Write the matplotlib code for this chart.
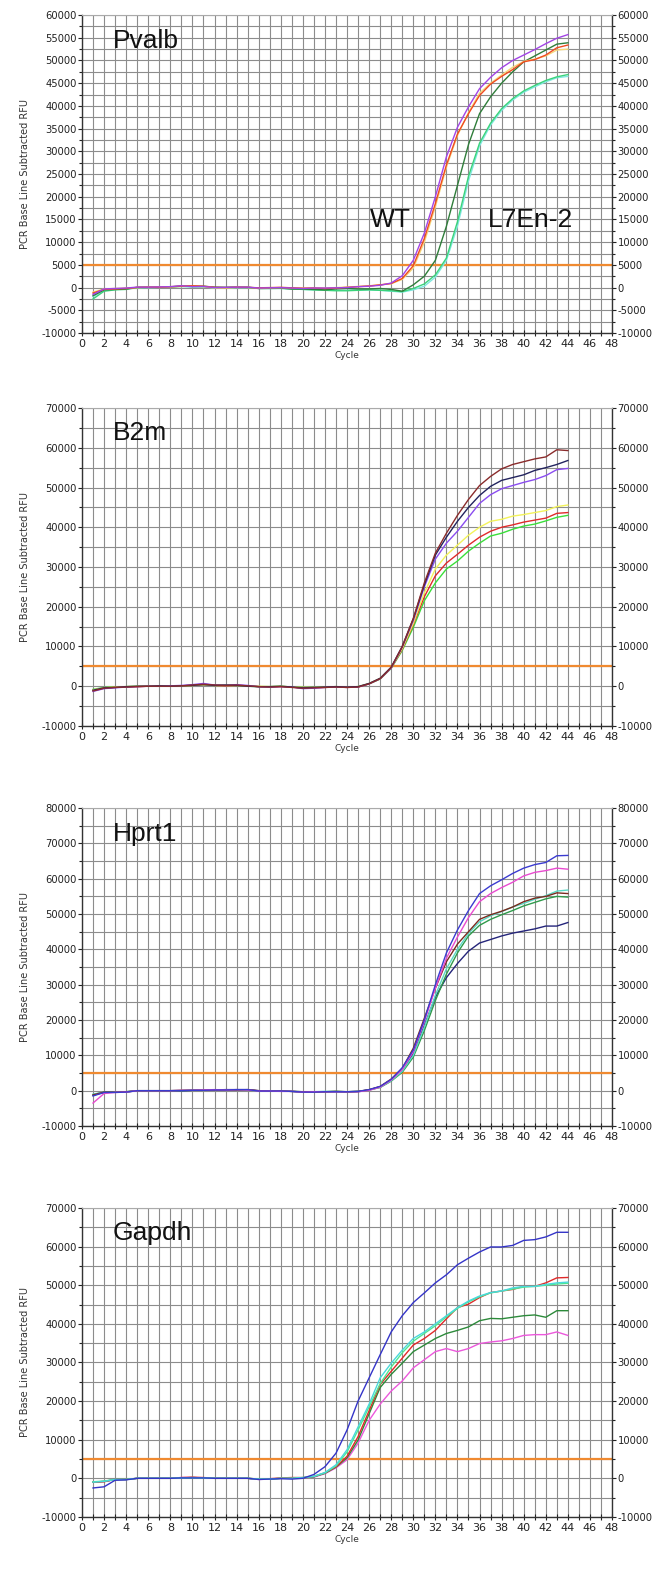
import numpy as np
import matplotlib
matplotlib.use("Agg")
import matplotlib.pyplot as plt
from matplotlib.ticker import MultipleLocator

plt.rcParams["axes.unicode_minus"] = False

# cycle numbers 1..44
cycles = np.arange(1, 45)
threshold = 5000

# Pvalb
pv_purple = [-1500, -300, -200, -100, 100, 100, 150, 200, 400, 200,
             250, 0, 50, 100, 100, -100, -50, 0, -100, -200,
             -100, -100, -50, 0, 200, 300, 500, 1000, 2600, 6000,
             12000, 20000, 28800, 35300, 39800, 43800, 46300, 48400, 50000, 51200,
             52400, 53700, 54900, 55700]
pv_red = [-1200, -400, -300, -200, 50, 100, 100, 200, 300, 400,
          300, 50, 0, 100, 50, -50, 0, 50, -50, -150,
          -100, -200, -100, 50, 200, 350, 600, 900, 2000, 4800,
          10800, 18500, 27000, 33800, 38300, 42300, 44800, 46500, 48000, 49700,
          50200, 51200, 52800, 53400]
pv_yellow = [-1000, -300, -200, -100, 0, 100, 150, 150, 250, 300,
             200, -50, -100, 50, 50, -100, -50, 0, -50, -100,
             -50, -100, 0, 100, 250, 400, 600, 850, 1800, 4300,
             10000, 17800, 26500, 33500, 38500, 42800, 45000, 46800, 48500, 49800,
             50300, 51000, 52300, 52500]
pv_dkgreen = [-1800, -500, -400, -300, 50, 100, 100, 150, 350, 300,
              300, 100, 50, 100, 100, -200, -150, -100, -300, -300,
              -400, -500, -300, -200, -300, -300, -200, -400, -800, 600,
              2500, 6000, 13500, 22500, 31500, 38300, 42000, 45000, 47500, 49700,
              51000, 52300, 53600, 53900]
pv_green = [-2500, -800, -500, -400, 0, 50, 100, 100, 300, 200,
            200, 0, 0, 50, 50, -200, -200, -150, -300, -400,
            -500, -600, -700, -700, -600, -500, -600, -700, -900, -200,
            800, 2800, 6500, 14500, 24500, 31800, 36200, 39400, 41600, 43300,
            44500, 45600, 46400, 46900]
pv_cyan = [-2000, -600, -400, -300, 0, 0, 50, 100, 200, 150,
           100, -50, -50, 0, 0, -150, -200, -200, -300, -400,
           -500, -500, -600, -600, -500, -500, -600, -800, -1000, -500,
           300, 2300, 6000, 13500, 23500, 31200, 35800, 39000, 41300, 43000,
           44200, 45300, 46200, 46500]

# B2m
b2_brown = [-1200, -500, -300, -200, -100, 0, 0, 0, 100, 300,
            500, 300, 200, 300, 100, -100, -200, -100, -300, -500,
            -400, -300, -200, -300, -200, 600, 1900, 4700, 10000, 17000,
            26000, 33500, 38500, 43000, 47000, 50500, 52800, 54700, 55800, 56500,
            57200, 57700, 59500, 59300]
b2_navy = [-1000, -400, -300, -100, 0, 0, 100, 0, 100, 200,
           400, 200, 300, 200, 0, -100, -100, 0, -200, -400,
           -300, -200, -100, -200, -100, 700, 2000, 4800, 10000, 17000,
           25500, 33000, 37500, 41500, 45000, 48000, 50300, 51800, 52500, 53200,
           54300, 55000, 55800, 56800]
b2_purple = [-1300, -600, -400, -200, -100, 0, 0, 100, 200, 400,
             700, 300, 200, 400, 200, -100, -200, -100, -200, -600,
             -500, -300, -200, -300, -200, 600, 1900, 4600, 9800, 16500,
             25000, 32000, 36000, 39000, 42500, 46000, 48200, 49700, 50500, 51300,
             52000, 53000, 54500, 54800]
b2_yellow = [-900, -400, -200, -100, 0, 100, 100, 0, 100, 200,
             300, 200, 200, 200, 100, 0, -100, 0, -200, -300,
             -300, -200, -100, -200, -100, 700, 2000, 4700, 9500, 15800,
             23500, 29500, 33000, 35500, 38000, 40000, 41500, 42000, 42800, 43200,
             43700, 44200, 45200, 45600]
b2_red = [-1000, -500, -300, -200, -100, 0, 0, 0, 100, 200,
          400, 200, 100, 200, 100, -100, -200, -100, -200, -500,
          -400, -300, -200, -300, -200, 600, 1900, 4600, 9300, 15500,
          22500, 27800, 31000, 33200, 35500, 37500, 39000, 40000, 40600, 41300,
          41800, 42300, 43500, 43700]
b2_green = [-800, -300, -200, -100, 0, 0, 100, 0, 100, 200,
            300, 200, 200, 200, 0, -100, -100, 0, -200, -300,
            -300, -200, -100, -200, -100, 600, 1800, 4500, 9000, 14800,
            21500, 26000, 29500, 31500, 34000, 36000, 37800, 38500, 39500, 40300,
            40800, 41600, 42500, 43000]

# Hprt1
hp_blue = [-1500, -500, -500, -400, 0, 0, 0, 0, 0, 100,
           100, 200, 200, 300, 300, -100, -100, -100, -200, -400,
           -400, -300, -300, -300, -200, 300, 1200, 3200, 6500, 11500,
           20000, 30000, 39000, 45500, 51000, 55800, 58000, 59700, 61500, 63000,
           64000, 64600, 66500, 66600]
hp_pink = [-3500, -800, -500, -400, 0, 0, 0, 0, 100, 100,
           200, 300, 200, 300, 200, -100, -100, -200, -200, -400,
           -300, -300, -300, -300, -300, 100, 1000, 3000, 6000, 11000,
           19500, 29000, 37500, 43500, 49000, 53500, 55800, 57500, 59000, 60800,
           61800, 62300, 63000, 62700]
hp_brown = [-1200, -400, -400, -300, 0, 0, 0, 0, 100, 100,
            100, 200, 200, 200, 300, 0, -100, -100, -200, -300,
            -300, -300, -200, -300, -200, 300, 1200, 3300, 6300, 12000,
            20500, 29000, 36500, 41500, 45000, 48500, 49800, 50800, 52000, 53500,
            54500, 55000, 56000, 55800]
hp_teal = [-1000, -400, -300, -300, 0, 0, 0, 0, 100, 100,
           100, 200, 200, 200, 200, -100, -100, -100, -200, -300,
           -300, -200, -200, -300, -200, 200, 1000, 2800, 5500, 10000,
           18000, 27000, 34500, 40000, 44500, 47800, 49500, 50700, 52000, 53000,
           54200, 55200, 56500, 56800]
hp_green = [-1100, -400, -400, -300, 0, 0, 0, 0, 0, 100,
            100, 200, 200, 200, 200, -100, -100, -100, -200, -300,
            -300, -300, -200, -300, -200, 200, 900, 2700, 5200, 9500,
            17000, 25500, 33000, 39000, 43800, 46800, 48500, 49800, 51000, 52300,
            53300, 54300, 55000, 54800]
hp_navy = [-1300, -500, -400, -400, 0, 0, 0, 0, 0, 100,
           200, 200, 300, 300, 300, 0, -100, -100, -200, -400,
           -400, -300, -300, -400, -300, 200, 1100, 3000, 5500, 10500,
           18500, 26500, 32000, 36000, 39500, 41800, 42800, 43800, 44600, 45200,
           45800, 46600, 46600, 47600]

# Gapdh
gp_blue = [-2500, -2200, -500, -400, 0, 0, 0, 0, 100, 100,
           100, 0, 0, 0, 0, -300, -200, -100, -200, 0,
           1000, 3000, 6500, 12500, 20000, 26000, 32000, 37900, 42100, 45500,
           48000, 50600, 52700, 55300, 57000, 58600, 59900, 59900, 60300, 61600,
           61800, 62500, 63700, 63700]
gp_cyan = [-1000, -800, -300, -300, 0, 0, 0, 0, 100, 200,
           100, 0, 0, 0, 0, -200, -200, 0, 0, 200,
           500, 1500, 3500, 7400, 13300, 19200, 26000, 29800, 33200, 36200,
           37900, 40000, 42100, 44200, 45900, 47200, 48100, 48500, 49300, 49700,
           49700, 50200, 50600, 50800]
gp_ltgreen = [-900, -700, -300, -300, 0, 0, 0, 0, 100, 100,
              100, 0, 0, 0, 0, -200, -200, 0, 0, 200,
              500, 1400, 3200, 6800, 12500, 18500, 24500, 28800, 32500, 35500,
              37500, 39500, 41800, 44000, 45700, 47000, 48000, 48500, 49000, 49500,
              49700, 50000, 50300, 50500]
gp_red = [-1000, -900, -300, -300, 0, 0, 0, 0, 200, 300,
          200, 0, 0, 0, 0, -200, -100, 100, 200, 200,
          500, 1400, 3000, 5700, 10800, 17500, 24300, 27700, 31100, 34500,
          36200, 38300, 41300, 44200, 45100, 46800, 48100, 48500, 48900, 49700,
          49700, 50600, 51900, 52000]
gp_dkgreen = [-1000, -800, -300, -300, 0, 0, 0, 0, 100, 200,
              100, 0, 0, 0, 0, -200, -200, 0, 0, 100,
              400, 1300, 2900, 5300, 9900, 16700, 23500, 26900, 29800, 32800,
              34500, 36200, 37500, 38300, 39200, 40800, 41400, 41300, 41700, 42100,
              42300, 41700, 43400, 43400]
gp_magenta = [-1000, -800, -300, -300, 0, 0, 0, 0, 200, 200,
              100, 0, 0, 0, 0, -300, -200, 0, 100, 100,
              300, 1200, 2700, 4800, 9100, 15000, 19200, 22600, 25200, 28600,
              30700, 32800, 33600, 32800, 33600, 34900, 35300, 35600, 36200, 37000,
              37200, 37200, 37900, 37000]

genes = ["Pvalb", "B2m", "Hprt1", "Gapdh"]
panel_series = [
    [(pv_cyan, "#7fe8e0"), (pv_green, "#3ad37a"), (pv_dkgreen, "#2f7d3a"),
     (pv_yellow, "#f5d77a"), (pv_red, "#f04a20"), (pv_purple, "#a244e6")],
    [(b2_green, "#3adf3a"), (b2_red, "#e02a2a"), (b2_yellow, "#f3f35a"),
     (b2_purple, "#8a4cf0"), (b2_navy, "#22235e"), (b2_brown, "#8a2b2b")],
    [(hp_navy, "#24247a"), (hp_green, "#2f9a4a"), (hp_teal, "#5ad8c4"),
     (hp_brown, "#7a2a1e"), (hp_pink, "#e94bd0"), (hp_blue, "#3b3bd0")],
    [(gp_magenta, "#ec58dc"), (gp_dkgreen, "#2c8a3a"), (gp_red, "#e02a2a"),
     (gp_ltgreen, "#4ee890"), (gp_cyan, "#4ad8dc"), (gp_blue, "#3434c8")],
]
ylims = [(-10000, 60000), (-10000, 70000), (-10000, 80000), (-10000, 70000)]
ymajor = [5000, 10000, 10000, 10000]
yminor = [2500, 5000, 5000, 5000]

# axes boxes in figure fractions [left, bottom, width, height]
boxes = [
    [0.125, 0.7879, 0.808, 0.2025],
    [0.125, 0.5376, 0.808, 0.2025],
    [0.125, 0.2828, 0.808, 0.2025],
    [0.125, 0.0338, 0.808, 0.1968],
]

fig = plt.figure(figsize=(6.56, 15.7), dpi=100)

for i in range(4):
    ax = fig.add_axes(boxes[i])
    ax.set_xlim(0, 48)
    ax.set_ylim(*ylims[i])

    ax.xaxis.set_major_locator(MultipleLocator(2))
    ax.xaxis.set_minor_locator(MultipleLocator(1))
    ax.yaxis.set_major_locator(MultipleLocator(ymajor[i]))
    ax.yaxis.set_minor_locator(MultipleLocator(yminor[i]))
    ax.grid(which="both", color="#8c8c8c", linewidth=0.8)
    ax.set_axisbelow(True)

    ax.tick_params(axis="x", which="both", direction="inout", length=5,
                   width=0.8, labelsize=8, pad=2, colors="#222222")
    ax.tick_params(axis="y", which="both", direction="out", left=True, right=True,
                   labelleft=True, labelright=True, labelsize=7.2, pad=1,
                   colors="#222222")
    ax.tick_params(axis="y", which="major", length=3, width=0.8)
    ax.tick_params(axis="y", which="minor", length=2.5, width=0.8)

    for s in ["left", "bottom", "right"]:
        ax.spines[s].set_color("#333333")
        ax.spines[s].set_linewidth(1.0)
    ax.spines["top"].set_color("#aaaaaa")

    ax.axhline(threshold, color="#f08a30", linewidth=1.6, zorder=2)

    for vals, col in panel_series[i]:
        ax.plot(cycles, vals, color=col, linewidth=1.0, zorder=3)

    ax.set_ylabel("PCR Base Line Subtracted RFU", fontsize=7, color="#333333",
                  labelpad=8)
    ax.set_xlabel("Cycle", fontsize=6.5, color="#333333", labelpad=1)

    ax.text(0.058, 0.92, genes[i], transform=ax.transAxes, fontsize=19,
            family="Liberation Sans", va="center", ha="left", color="#111111")

    if i == 0:
        ax.text(0.543, 0.355, "WT", transform=ax.transAxes, fontsize=19,
                family="Liberation Sans", va="center", ha="left", color="#111111")
        ax.text(0.766, 0.355, "L7En-2", transform=ax.transAxes, fontsize=19,
                family="Liberation Sans", va="center", ha="left", color="#111111")

fig.savefig("out.png", dpi=100, facecolor="white")
